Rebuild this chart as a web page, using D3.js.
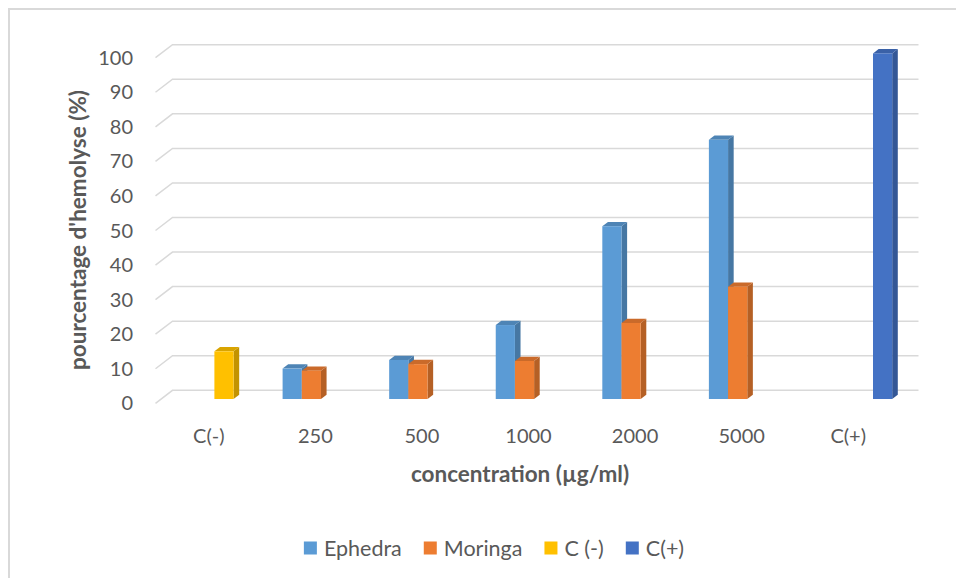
<!DOCTYPE html>
<html><head><meta charset="utf-8">
<script src="https://cdn.jsdelivr.net/npm/d3@7"></script>
<style>
body{margin:0;background:#fff;}
svg{display:block;font-family:Lato,"Open Sans",sans-serif;}
</style></head>
<body><svg id="c" width="956" height="578"></svg>
<script>
const categories = ["C(-)", "250", "500", "1000", "2000", "5000", "C(+)"];
const seriesNames = ["Ephedra", "Moringa", "C (-)", "C(+)"];
const ephedra = [null, 8.8, 11.3, 21.4, 50, 75, null];
const moringa = [null, 8.2, 10.1, 11, 22, 32.5, null];
const cNeg = [13.8, null, null, null, null, null, null];
const cPos = [null, null, null, null, null, null, 100];
const yTicks = [0, 10, 20, 30, 40, 50, 60, 70, 80, 90, 100];
const colors = ["#5B9BD5", "#ED7D31", "#FFC000", "#4472C4"];
const yTitle = "pourcentage d'hemolyse (%)";
const xTitle = "concentration (µg/ml)";

const svg = d3.select("#c");
const W = 956, H = 578;

// chart frame
svg.append("path").attr("d", `M9,${H+5} L9,9 L${W+5},9`).attr("fill","none")
  .attr("stroke","#d9d9d9").attr("stroke-width",2);

// 3D geometry
const depth = {dx: 17, dy: -13};
const barFrontF = 0.33, barBackF = 0.66;
const x = d3.scaleBand().domain(categories).range([155.5, 901.5]).paddingInner(0.28).paddingOuter(0.14);
const xs = d3.scaleBand().domain(seriesNames).range([0, x.bandwidth()]);
const y = d3.scaleLinear().domain([0, 100]).range([403.3, 57.7]);

// gridlines (back wall + side wall)
const g = svg.append("g");
yTicks.forEach(t => {
  const yf = y(t), yb = y(t) + depth.dy;
  g.append("path")
    .attr("d", `M${x.range()[0]},${yf} L${x.range()[0]+depth.dx},${yb} L${x.range()[1]+depth.dx},${yb}`)
    .attr("fill","none").attr("stroke","#d9d9d9").attr("stroke-width",1.5);
});

// y tick labels
svg.append("g").selectAll("text").data(yTicks).join("text")
  .attr("x", 133).attr("y", d => y(d)).attr("dy","0.35em")
  .attr("text-anchor","end").attr("font-size",20).attr("fill","#595959")
  .text(d => d);

// x labels
svg.append("g").selectAll("text").data(categories).join("text")
  .attr("x", d => x(d) + x.bandwidth()/2).attr("y", 436).attr("dy","0.35em")
  .attr("text-anchor","middle").attr("font-size",20).attr("fill","#595959")
  .text(d => d);

// bars
const seriesData = [ephedra, moringa, cNeg, cPos];
const bars = [];
categories.forEach((c, i) => {
  seriesData.forEach((arr, s) => {
    if (arr[i] != null) bars.push({cat: c, s, v: arr[i]});
  });
});
const bg = svg.append("g");
const fx = barFrontF*depth.dx, fy = barFrontF*depth.dy;
const bdx = (barBackF-barFrontF)*depth.dx, bdy = (barBackF-barFrontF)*depth.dy;
bars.forEach(b => {
  const x0 = x(b.cat) + xs(seriesNames[b.s]) + fx;
  const x1 = x0 + xs.bandwidth();
  const y0 = y(0) + fy, y1 = y(b.v) + fy;
  const base = d3.color(colors[b.s]);
  bg.append("path").attr("d", `M${x1},${y0} L${x1+bdx},${y0+bdy} L${x1+bdx},${y1+bdy} L${x1},${y1} Z`)
    .attr("fill", base.darker(0.75).formatHex());
  bg.append("path").attr("d", `M${x0},${y1} L${x1},${y1} L${x1+bdx},${y1+bdy} L${x0+bdx},${y1+bdy} Z`)
    .attr("fill", base.darker(0.45).formatHex());
  bg.append("rect").attr("x", x0).attr("y", y1).attr("width", x1-x0).attr("height", y0-y1)
    .attr("fill", base.formatHex());
});

// axis titles
svg.append("text").attr("x", 520).attr("y", 474).attr("dy","0.35em")
  .attr("text-anchor","middle").attr("font-size",22.5).attr("font-weight","bold").attr("fill","#595959")
  .text(xTitle);
svg.append("text").attr("transform","translate(78,230) rotate(-90)").attr("dy","0.35em")
  .attr("text-anchor","middle").attr("font-size",22.5).attr("font-weight","bold").attr("fill","#595959")
  .text(yTitle);

// legend
const lg = svg.append("g");
let lx = 0;
const items = [];
seriesNames.forEach((n, i) => {
  const it = lg.append("g");
  it.append("rect").attr("x", 0).attr("y", -6.5).attr("width", 13).attr("height", 13).attr("fill", colors[i]);
  const t = it.append("text").attr("x", 20).attr("y", 0).attr("dy","0.35em")
    .attr("font-size",21.5).attr("fill","#595959").text(n);
  const w = 20 + t.node().getComputedTextLength();
  items.push({it, x: lx});
  lx += w + 22;
});
const totalW = lx - 22;
const startX = 494 - totalW/2;
items.forEach(o => o.it.attr("transform", `translate(${startX + o.x},548)`));
</script></body></html>
